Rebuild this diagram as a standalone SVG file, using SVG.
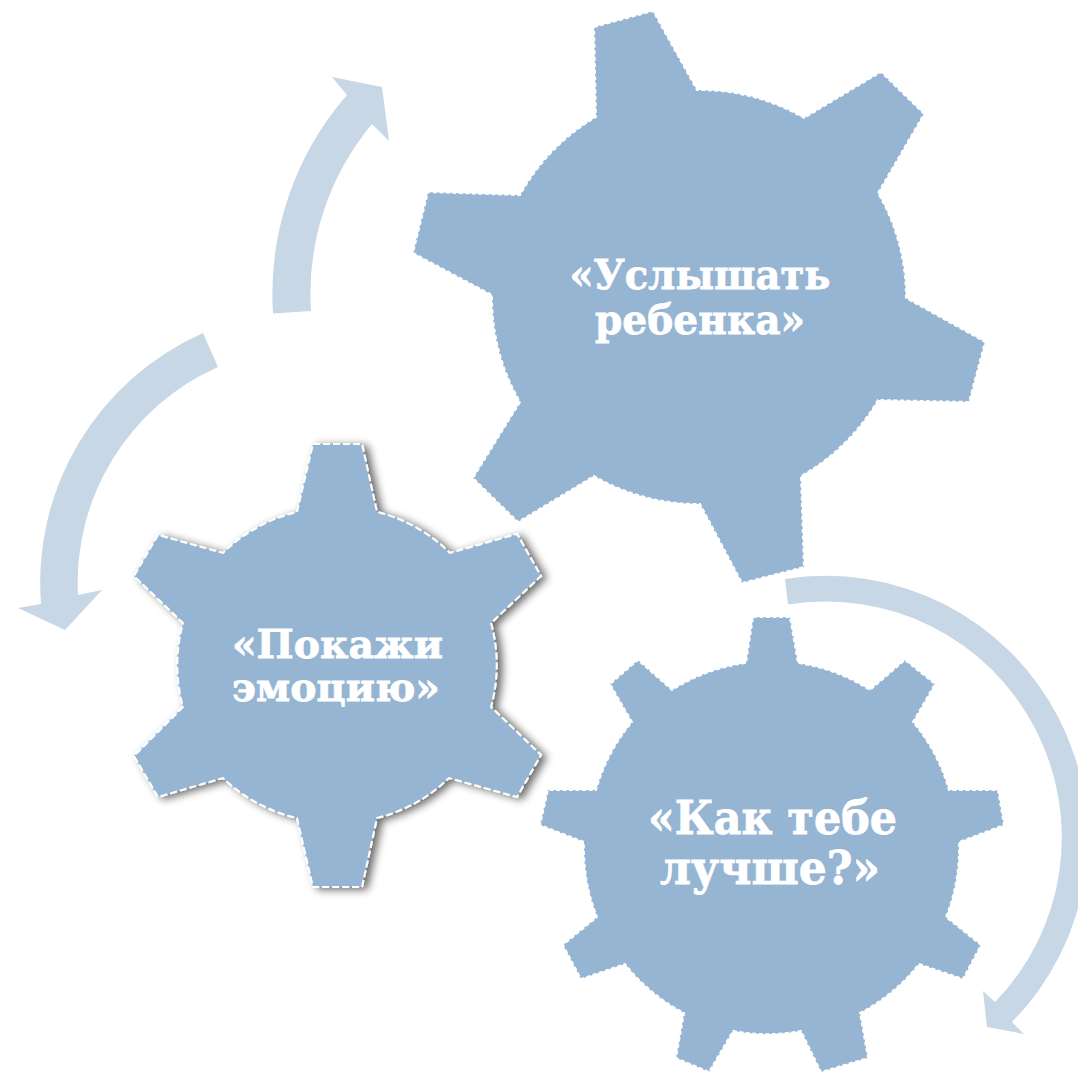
<svg xmlns="http://www.w3.org/2000/svg" width="1078" height="1073" viewBox="0 0 1078 1073">
<style>
.gear{fill:#96B5D3;stroke:#fff;stroke-width:2;stroke-dasharray:4 2.5}
.gear.sh{stroke-dasharray:7 3}
.arrow{fill:#C7D7E6;stroke:none}
.lbl{font-family:"DejaVu Serif","Liberation Serif",serif;font-weight:bold;fill:#fff;stroke:#fff;stroke-width:.8;font-size:41px;text-anchor:middle}
.mid{font-size:40px}
.big{font-size:47px}
</style>
<defs>
<filter id="sh" x="-10%" y="-10%" width="125%" height="125%">
<feGaussianBlur in="SourceAlpha" stdDeviation="4.5"/>
<feOffset dx="5" dy="2"/>
<feComponentTransfer><feFuncA type="linear" slope="0.6"/></feComponentTransfer>
<feMerge><feMergeNode/><feMergeNode in="SourceGraphic"/></feMerge>
</filter>
</defs>
<rect width="1078" height="1073" fill="#fff"/>
<g id="connectors">
<path class="arrow" d="M273,313.5A303,303 0 0 1 347,95L332,77L382,87L389,141L372,124A265,265 0 0 0 311,311Z"/>
<path class="arrow" d="M203,333A273,273 0 0 0 41,604L18,608L65,630L102,590L78,595A236,236 0 0 1 218,367Z"/>
<path class="arrow" d="M785,579A262,262 0 0 1 1012,1022L1024,1034L987,1027L983,991L995,1002A236,236 0 0 0 788,604.500Z"/>
</g>
<g id="gear-top">
<path class="gear" d="M594,27L653,11L697,90A208,208 0 0 1 804,118L881,72L924,114L878,193A208,208 0 0 1 906,298L985,342L969,402L878,400A208,208 0 0 1 801,476L804,567L742,583L700,504A208,208 0 0 1 594,476L518,522L473,478L520,402A208,208 0 0 1 492,295L413,253L428,192L520,195A208,208 0 0 1 596,117Z"/>
<text class="lbl" x="700" y="289" textLength="261" lengthAdjust="spacingAndGlyphs">«Услышать</text>
<text class="lbl" x="700" y="334" textLength="210" lengthAdjust="spacingAndGlyphs">ребенка»</text>
</g>
<g id="gear-left">
<path class="gear sh" filter="url(#sh)" d="M313,444L362,444L377,512A158,158 0 0 1 450,553L517,534L541,576L491,623A158,158 0 0 1 491,707L541,755L517,797L449,778A158,158 0 0 1 377,818L362,887L313,887L297,818A158,158 0 0 1 223,778L158,797L134,756L183,707A158,158 0 0 1 183,623L134,576L158,535L223,553A158,158 0 0 1 297,512Z"/>
<text class="lbl mid" x="337.5" y="658" textLength="211" lengthAdjust="spacingAndGlyphs">«Покажи</text>
<text class="lbl mid" x="336" y="701" textLength="208" lengthAdjust="spacingAndGlyphs">эмоцию»</text>
</g>
<g id="gear-right">
<path class="gear" d="M753,617L790,617L798,663A185,185 0 0 1 870,690L905,660L935,684L913,722A185,185 0 0 1 949,790L998,790L1004,825L959,842A185,185 0 0 1 946,917L981,945L963,979L919,964A185,185 0 0 1 860,1013L868,1058L821,1072L801,1031A185,185 0 0 1 733,1031L709,1072L676,1058L684,1013A185,185 0 0 1 625,964L581,979L563,945L597,917A185,185 0 0 1 584,842L540,825L548,790L596,790A185,185 0 0 1 632,722L610,684L638,660L672,690A185,185 0 0 1 746,663Z"/>
<text class="lbl big" x="772.500" y="834" textLength="249" lengthAdjust="spacingAndGlyphs">«Как тебе</text>
<text class="lbl big" x="770" y="884" textLength="220" lengthAdjust="spacingAndGlyphs">лучше?»</text>
</g>
</svg>
